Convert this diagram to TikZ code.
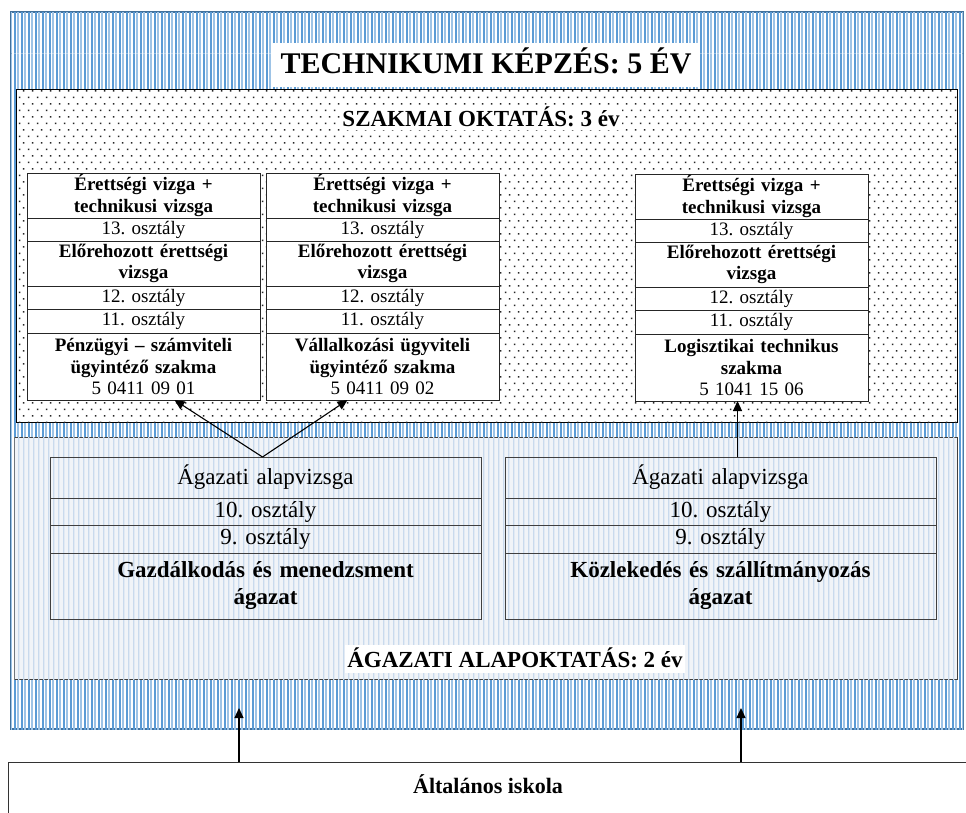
\documentclass[tikz,border=0pt]{standalone}
\usepackage{fontspec}
\setmainfont{Liberation Serif}
\frenchspacing
\usetikzlibrary{positioning,arrows.meta,patterns}

\definecolor{keretkek}{HTML}{41719C}
\definecolor{csiksotet}{HTML}{5B9BD5}
\definecolor{csikvilagos}{HTML}{9DC3E6}
\definecolor{halvanyalap}{HTML}{F1F4F8}
\definecolor{halvanycsik}{HTML}{C9DAED}

% blue stripes of the frame (one tall tile, no seams)
\pgfdeclarepatterninherentlycolored{kekcsikos}{\pgfpointorigin}{\pgfpoint{7pt}{760pt}}{\pgfpoint{7pt}{760pt}}{%
  \pgfsetfillcolor{csiksotet}%
  \pgfpathrectangle{\pgfpointorigin}{\pgfpoint{2pt}{760pt}}\pgfusepath{fill}%
  \pgfsetfillcolor{csikvilagos}%
  \pgfpathrectangle{\pgfpoint{3.5pt}{0pt}}{\pgfpoint{2pt}{760pt}}\pgfusepath{fill}%
}
% pale stripes
\pgfdeclarepatterninherentlycolored{halvanycsikos}{\pgfpointorigin}{\pgfpoint{4.5pt}{760pt}}{\pgfpoint{4.5pt}{760pt}}{%
  \pgfsetfillcolor{halvanycsik}%
  \pgfpathrectangle{\pgfpointorigin}{\pgfpoint{1.4pt}{760pt}}\pgfusepath{fill}%
}
% dotted area
\pgfdeclarepatterninherentlycolored{pontozott}{\pgfpointorigin}{\pgfpoint{9pt}{13.4pt}}{\pgfpoint{9pt}{13.4pt}}{%
  \pgfsetfillcolor{black!85}%
  \pgfpathrectangle{\pgfpoint{1pt}{1pt}}{\pgfpoint{1.5pt}{1.5pt}}%
  \pgfpathrectangle{\pgfpoint{5.5pt}{7.7pt}}{\pgfpoint{1.5pt}{1.5pt}}%
  \pgfusepath{fill}%
}

\begin{document}
\begin{tikzpicture}[
  x=1pt, y=1pt,
  font=\fontsize{19}{21.5}\selectfont,
  terulet/.style={anchor=north west, inner sep=0pt, outer sep=0pt},
  felirat/.style={fill=white, inner xsep=2pt, inner ysep=1pt, anchor=base,
                  font=\fontsize{23}{27}\selectfont\bfseries},
  sor/.style={draw=black!85, line width=0.8pt, fill=white,
              minimum width=233pt, text width=229pt,
              align=center, inner sep=0pt, outer sep=0pt},
  vizsga/.style={sor, minimum height=45pt, font=\fontsize{19}{21.5}\selectfont\bfseries},
  evfolyam/.style={sor, minimum height=23pt},
  alapsor/.style={draw=black!75, line width=0.8pt,
                  minimum width=431pt, text width=427pt,
                  align=center, inner sep=0pt, outer sep=0pt,
                  font=\fontsize{23}{27}\selectfont},
  nyil/.style={-{Triangle[length=10pt,width=9pt]}, line width=1.1pt, black},
]
\useasboundingbox (0,0) rectangle (966,-812);

% areas
\node[terulet, draw=keretkek, line width=2pt, fill=white,
      postaction={pattern=kekcsikos},
      minimum width=952pt, minimum height=717pt] (keret) at (11,-12) {};
\node[terulet, draw=black, line width=0.8pt, fill=white,
      postaction={pattern=pontozott},
      minimum width=941pt, minimum height=333pt] (szakmai) at (16,-89) {};
\node[terulet, draw=black!75, line width=0.8pt, fill=halvanyalap,
      postaction={pattern=halvanycsikos},
      minimum width=943pt, minimum height=242pt] (alapokt) at (14,-437) {};

% titles
\node[fill=white, anchor=base, inner xsep=8pt, inner ysep=2pt,
      text height=28pt, text depth=12pt,
      font=\fontsize{30}{36}\selectfont\bfseries] (cim) at (486,-73) {TECHNIKUMI KÉPZÉS: 5 ÉV};
\node[felirat, text height=20pt, text depth=3pt] (szakmaicim) at (481,-126) {SZAKMAI OKTATÁS: 3 év};
\node[felirat, text height=21pt, text depth=5pt] (alapcim) at (515,-667) {ÁGAZATI ALAPOKTATÁS: 2 év};

% first trade
\node[vizsga, anchor=north west] (erettsegi1) at (27,-173) {Érettségi vizga +\\ technikusi vizsga};
\node[evfolyam, below=0pt of erettsegi1] (tizenharom1) {13. osztály};
\node[vizsga, below=0pt of tizenharom1] (elorehozott1) {Előrehozott érettségi\\ vizsga};
\node[evfolyam, below=0pt of elorehozott1] (tizenketto1) {12. osztály};
\node[evfolyam, minimum height=24pt, below=0pt of tizenketto1] (tizenegy1) {11. osztály};
\node[sor, minimum height=67pt, below=0pt of tizenegy1] (szakma1)
  {{\bfseries Pénzügyi – számviteli\\ ügyintéző szakma}\\ 5 0411 09 01};

% second trade
\node[vizsga, anchor=north west] (erettsegi2) at (266,-173) {Érettségi vizga +\\ technikusi vizsga};
\node[evfolyam, below=0pt of erettsegi2] (tizenharom2) {13. osztály};
\node[vizsga, below=0pt of tizenharom2] (elorehozott2) {Előrehozott érettségi\\ vizsga};
\node[evfolyam, below=0pt of elorehozott2] (tizenketto2) {12. osztály};
\node[evfolyam, minimum height=24pt, below=0pt of tizenketto2] (tizenegy2) {11. osztály};
\node[sor, minimum height=67pt, below=0pt of tizenegy2] (szakma2)
  {{\bfseries Vállalkozási ügyviteli\\ ügyintéző szakma}\\ 5 0411 09 02};

% third trade
\node[vizsga, anchor=north west] (erettsegi3) at (635,-174) {Érettségi vizga +\\ technikusi vizsga};
\node[evfolyam, below=0pt of erettsegi3] (tizenharom3) {13. osztály};
\node[vizsga, below=0pt of tizenharom3] (elorehozott3) {Előrehozott érettségi\\ vizsga};
\node[evfolyam, below=0pt of elorehozott3] (tizenketto3) {12. osztály};
\node[evfolyam, minimum height=24pt, below=0pt of tizenketto3] (tizenegy3) {11. osztály};
\node[sor, minimum height=67pt, below=0pt of tizenegy3] (szakma3)
  {{\bfseries Logisztikai technikus\\ szakma}\\ 5 1041 15 06};

% sectors
\node[alapsor, minimum height=41pt, anchor=north west] (agvizsga1) at (50,-457) {Ágazati alapvizsga};
\node[alapsor, minimum height=27pt, below=0pt of agvizsga1] (tiz1) {10. osztály};
\node[alapsor, minimum height=28pt, below=0pt of tiz1] (kilenc1) {9. osztály};
\node[alapsor, minimum height=66pt, below=0pt of kilenc1,
      font=\fontsize{23}{27}\selectfont\bfseries] (agazat1) {Gazdálkodás és menedzsment\\ ágazat};

\node[alapsor, minimum height=41pt, anchor=north west] (agvizsga2) at (505,-457) {Ágazati alapvizsga};
\node[alapsor, minimum height=27pt, below=0pt of agvizsga2] (tiz2) {10. osztály};
\node[alapsor, minimum height=28pt, below=0pt of tiz2] (kilenc2) {9. osztály};
\node[alapsor, minimum height=66pt, below=0pt of kilenc2,
      font=\fontsize{23}{27}\selectfont\bfseries] (agazat2) {Közlekedés és szállítmányozás\\ ágazat};

% primary school
\node[draw=black!80, line width=1pt, anchor=north, minimum width=960pt,
      inner ysep=0pt, text height=31pt, text depth=29pt,
      font=\fontsize{22}{26}\selectfont\bfseries] (altalanos) at (488,-762) {Általános iskola};

% arrows
\coordinate (bal1) at ([xshift=31pt]szakma1.south);
\coordinate (bal2) at ([xshift=-35pt]szakma2.south);
\coordinate (jobbcel) at ([xshift=-14pt]szakma3.south);
\coordinate (also1) at ([xshift=-249pt,yshift=54pt]altalanos.north);
\coordinate (also2) at ([xshift=253pt,yshift=54pt]altalanos.north);

\draw[nyil] ([xshift=-3pt]agvizsga1.north) -- (bal1);
\draw[nyil] ([xshift=-3pt]agvizsga1.north) -- (bal2);
\draw[nyil] (agvizsga2.north -| jobbcel) -- (jobbcel);
\draw[nyil] (altalanos.north -| also1) -- (also1);
\draw[nyil] (altalanos.north -| also2) -- (also2);
\end{tikzpicture}
\end{document}
